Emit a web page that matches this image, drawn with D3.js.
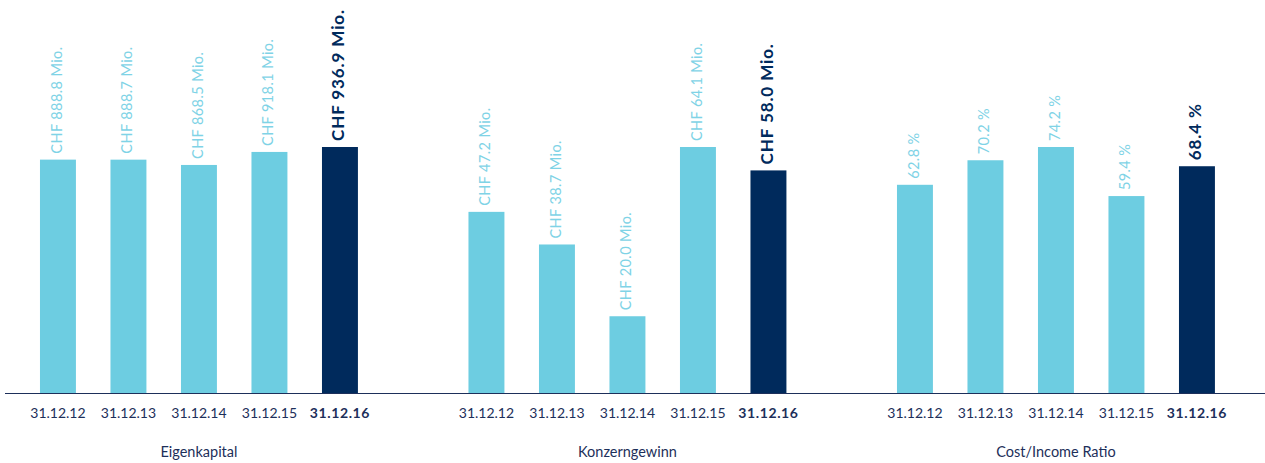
<!DOCTYPE html>
<html>
<head>
    <meta charset="utf-8">
    <title>Kennzahlen</title>
    <script src="https://d3js.org/d3.v7.min.js"></script>
    <style>
        body { margin:0; background:white; }
        text { font-family: Lato, "Open Sans", sans-serif; }
        .tick { font-size:14px; fill:#1d2f5a; text-anchor:middle; }
        .tick.current { letter-spacing:0.6px; }
        .title { font-size:14.5px; fill:#1d2f5a; text-anchor:middle; }
        .val { font-size:14.5px; fill:#7fd3e6; letter-spacing:0.4px; }
        .current { font-weight:bold; }
        .val.current { fill:#002a5c; font-size:17px; letter-spacing:0.9px; }
    </style>
</head>
<body>
    <script>
        var dates = ["31.12.12", "31.12.13", "31.12.14", "31.12.15", "31.12.16"];
        var titles = ["Eigenkapital", "Konzerngewinn", "Cost/Income Ratio"];
        var eigenkapital = [888.8, 888.7, 868.5, 918.1, 936.9];
        var konzerngewinn = [47.2, 38.7, 20.0, 64.1, 58.0];
        var costIncome = [62.8, 70.2, 74.2, 59.4, 68.4];
        var formats = [
            function(v){ return "CHF " + v.toFixed(1) + " Mio."; },
            function(v){ return "CHF " + v.toFixed(1) + " Mio."; },
            function(v){ return v.toFixed(1) + " %"; }
        ];
        var series = [eigenkapital, konzerngewinn, costIncome];

        var width = 1265, height = 463;
        var baseY = 393, topY = 147;

        var svg = d3.select("body").append("svg")
                    .attr("width", width).attr("height", height);

        var x = d3.scaleBand().domain(dates).range([0, 352.5])
                    .paddingInner(0.49).paddingOuter(0.245);

        series.forEach(function(values, i){
            var g = svg.append("g").attr("transform", "translate(" + (22.7 + i*428.5) + ",0)");
            var y = d3.scaleLinear().domain([0, d3.max(values)]).range([baseY, topY]);
            var rows = dates.map(function(d, j){ return {date:d, value:values[j], last:j == dates.length-1}; });

            g.selectAll("rect").data(rows).enter().append("rect")
                .attr("x", function(d){ return x(d.date); })
                .attr("y", function(d){ return y(d.value); })
                .attr("width", x.bandwidth())
                .attr("height", function(d){ return baseY - y(d.value); })
                .attr("fill", function(d){ return d.last ? "#002a5c" : "#6dcde1"; });

            g.selectAll("text.val").data(rows).enter().append("text")
                .attr("class", function(d){ return d.last ? "val current" : "val"; })
                .attr("transform", function(d){
                    return "translate(" + (x(d.date) + x.bandwidth()/2) + "," + (y(d.value) - 6) + ") rotate(-90)";
                })
                .attr("dominant-baseline", "middle")
                .text(function(d){ return formats[i](d.value); });

            g.selectAll("text.tick").data(rows).enter().append("text")
                .attr("class", function(d){ return d.last ? "tick current" : "tick"; })
                .attr("x", function(d){ return x(d.date) + x.bandwidth()/2; })
                .attr("y", 418)
                .text(function(d){ return d.date; });

            g.append("text").attr("class", "title")
                .attr("x", 176.25).attr("y", 457)
                .text(titles[i]);
        });

        // baseline over the full width
        svg.append("line")
            .attr("x1", 5).attr("x2", width)
            .attr("y1", baseY + 0.5).attr("y2", baseY + 0.5)
            .attr("stroke", "#1d2f5a").attr("stroke-width", 1);
    </script>
</body>
</html>
